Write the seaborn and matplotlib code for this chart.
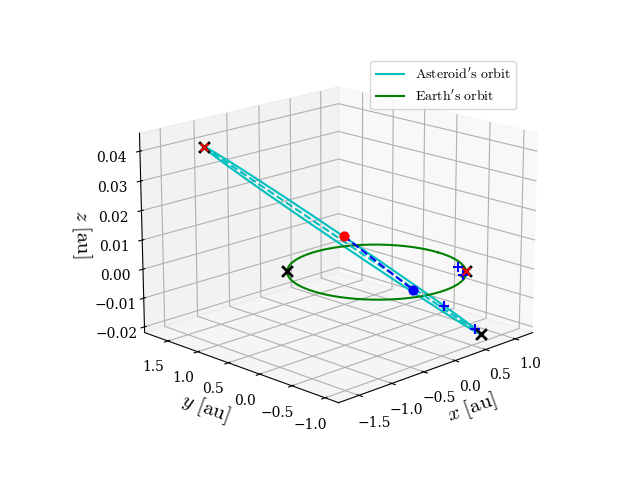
import numpy as np
import matplotlib
matplotlib.use("Agg")
import matplotlib.pyplot as plt
import seaborn as sns

plt.rcParams["mathtext.fontset"] = "cm"
plt.rcParams["font.family"] = "serif"
plt.rcParams["font.serif"] = ["DejaVu Serif"]

# asteroid orbit: aphelion/perihelion and minor half-width
aphelion = np.array([-1.35, 1.35, 0.042])
perihelion = np.array([0.78, -0.88, -0.021])
minor_offset = np.array([0.13, 0.13, 0.0])
earth_radius = 1.0

# marker points
sun_pt = [-0.26, 0.26, 0.012]
ast_pt = [0.26, -0.31, -0.006]
plus_x = [0.74, 0.58, 0.38, 0.72]
plus_y = [-0.55, -0.78, -0.68, -0.84]
plus_z = [0.0, 0.0, -0.010, -0.019]
earth_cross_x = [-0.70, 0.72]
earth_cross_y = [0.72, -0.70]

t = np.linspace(0, 2 * np.pi, 300)
centre = (aphelion + perihelion) / 2
half = (aphelion - perihelion) / 2
orbit = centre[:, None] + half[:, None] * np.cos(t) + minor_offset[:, None] * np.sin(t)

fig = plt.figure(figsize=(6.4, 4.8))
ax = fig.add_subplot(projection="3d")
ax.set_position([0.07, 0.05, 0.9, 0.9])
ax.plot(orbit[0], orbit[1], orbit[2], color="c", label=r"$\mathrm{Asteroid's\ orbit}$")
ax.plot(earth_radius * np.cos(t), earth_radius * np.sin(t), 0 * t, color="g",
        label=r"$\mathrm{Earth's\ orbit}$")
ax.plot([aphelion[0], perihelion[0]], [aphelion[1], perihelion[1]],
        [aphelion[2], perihelion[2]], "c--")
ax.plot([sun_pt[0], ast_pt[0]], [sun_pt[1], ast_pt[1]], [sun_pt[2], ast_pt[2]], "b--")
ax.scatter(*sun_pt, color="r", s=40, depthshade=False)
ax.scatter(*ast_pt, color="b", s=40, depthshade=False)
ax.scatter(plus_x, plus_y, plus_z, marker="+", color="b", s=60, depthshade=False)
ax.scatter([aphelion[0], perihelion[0]], [aphelion[1], perihelion[1]],
           [aphelion[2], perihelion[2]], marker="x", color="k", s=60, linewidths=2, depthshade=False)
ax.scatter(earth_cross_x, earth_cross_y, [0, 0], marker="x", color="k", s=60, linewidths=2, depthshade=False)
ax.scatter([aphelion[0], earth_cross_x[1]], [aphelion[1], earth_cross_y[1]], [aphelion[2], 0],
           marker="x", color="r", s=30, depthshade=False)

ax.set_xlim(-1.8, 1.3)
ax.set_ylim(-1.2, 1.9)
ax.set_zlim(-0.022, 0.046)
ax.set_xlabel(r"$x\ [\mathrm{au}]$", fontsize=15)
ax.set_ylabel(r"$y\ [\mathrm{au}]$", fontsize=15)
ax.set_zlabel(r"$z\ [\mathrm{au}]$", fontsize=15)
ax.set_zticks([-0.02, -0.01, 0.0, 0.01, 0.02, 0.03, 0.04])
ax.view_init(elev=17, azim=-135)
ax.legend(loc="upper right", bbox_to_anchor=(0.94, 0.93))
plt.savefig("out.png", dpi=100)
